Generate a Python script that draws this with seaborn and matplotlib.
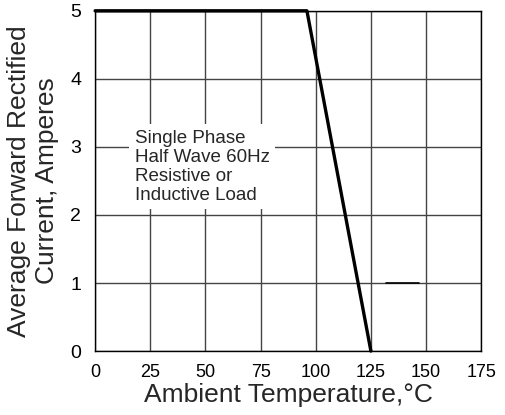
import numpy as np
import pandas as pd
import seaborn as sns
import matplotlib.pyplot as plt

# derating curve
temp = [0, 96, 125]
current = [5, 5, 0]
# small stray dash on the original drawing
dash_x = [132, 147]
dash_y = [1, 1]

x_ticks = [0, 25, 50, 75, 100, 125, 150, 175]
y_ticks = [0, 1, 2, 3, 4, 5]

sns.set_theme(style="white")
plt.rcParams['font.family'] = ['Liberation Sans', 'DejaVu Sans']

df = pd.DataFrame({'temp': temp, 'current': current})
df_dash = pd.DataFrame({'x': dash_x, 'y': dash_y})

fig = plt.figure(figsize=(5.06, 4.15), dpi=100)
ax = fig.add_axes([0.188, 0.154, 0.763, 0.82])

sns.lineplot(x='temp', y='current', data=df, color='black', linewidth=2.4,
             sort=False, ax=ax, zorder=5)
sns.lineplot(x='x', y='y', data=df_dash, color='black', linewidth=1.2,
             sort=False, ax=ax, zorder=5)
for ln in ax.lines:
    ln.set_clip_on(False)

ax.set_xlim(0, 175)
ax.set_ylim(0, 5)
ax.set_xticks(x_ticks)
ax.set_yticks(y_ticks)
ax.grid(True, color='#444444', linewidth=1.0)
ax.tick_params(axis='both', length=0, colors='black')
ax.tick_params(axis='x', labelsize=13, pad=9)
ax.tick_params(axis='y', labelsize=14, pad=10)
for s in ax.spines.values():
    s.set_color('black')
    s.set_linewidth(1.0)

ax.set_xlabel("Ambient Temperature,°C", fontsize=19, labelpad=2)
ax.set_ylabel("Average Forward Rectified\nCurrent, Amperes", fontsize=19,
              labelpad=8, linespacing=1.2)

ax.text(18, 3.25, "Single Phase\nHalf Wave 60Hz\nResistive or\nInductive Load",
        fontsize=13.5, va='top', ha='left', linespacing=1.15, zorder=4,
        bbox=dict(facecolor='white', edgecolor='none', pad=4))

fig.savefig("out.png", dpi=100)
